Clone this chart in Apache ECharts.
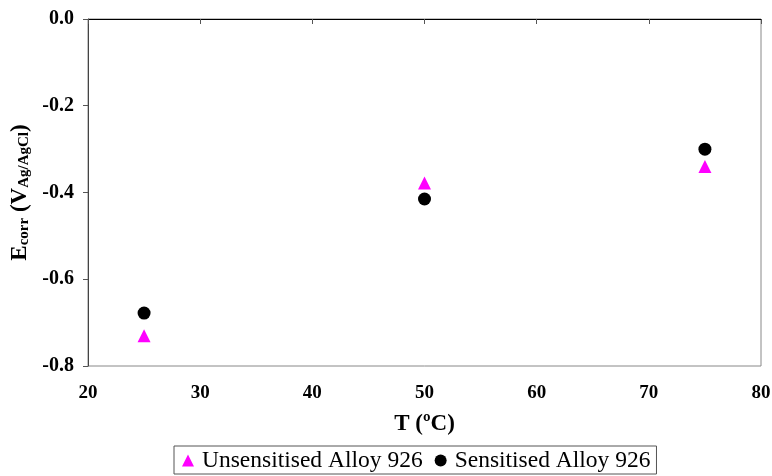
<!DOCTYPE html>
<html><head><meta charset="utf-8">
<script src="https://cdn.jsdelivr.net/npm/echarts@6/dist/echarts.min.js"></script>
<style>html,body{margin:0;padding:0;background:#fff}#c{width:772px;height:476px}</style>
</head><body><div id="c"></div>
<script>
const temps = [25, 50, 75];
const unsensitised = [-0.73, -0.378, -0.34];
const sensitised = [-0.678, -0.415, -0.30];
const xTicks = [20, 30, 40, 50, 60, 70, 80];
const yTicks = [-0.8, -0.6, -0.4, -0.2, 0.0];
const seriesNames = ['Unsensitised Alloy 926', 'Sensitised Alloy 926'];

const font = '"Liberation Serif", "Times New Roman", serif';
const chart = echarts.init(document.getElementById('c'));
chart.setOption({
  animation: false,
  grid: {left: 88, right: 11, top: 19, bottom: 110, show: true, borderColor: '#888', borderWidth: 1,
         containLabel: false, outerBoundsMode: 'none'},
  xAxis: {
    type: 'value', min: xTicks[0], max: xTicks[xTicks.length-1], interval: 10,
    name: 'T (ºC)', nameLocation: 'middle', nameGap: 47,
    nameTextStyle: {fontFamily: font, fontWeight: 'bold', fontSize: 23, color: '#000'},
    axisLine: {show: true, lineStyle: {color: '#000', width: 1}},
    axisTick: {show: true, inside: false, length: 5, lineStyle: {color: '#555'}},
    axisLabel: {fontFamily: font, fontWeight: 'bold', fontSize: 19, color: '#000', margin: 18},
    splitLine: {show: false}
  },
  yAxis: {
    type: 'value', min: yTicks[0], max: yTicks[yTicks.length-1], interval: 0.2,
    name: '{b|E}{s|corr}{b| (V}{s|Ag/AgCl}{b|)}', nameLocation: 'middle', nameGap: 55, nameRotate: 90,
    nameTextStyle: {
      fontFamily: font, color: '#000',
      rich: {
        b: {fontFamily: font, fontWeight: 'bold', fontSize: 23, color: '#000', verticalAlign: 'bottom', lineHeight: 28},
        s: {fontFamily: font, fontWeight: 'bold', fontSize: 15, color: '#000', verticalAlign: 'bottom', lineHeight: 17}
      }
    },
    axisLine: {show: true, lineStyle: {color: '#444', width: 1}},
    axisTick: {show: true, inside: false, length: 5, lineStyle: {color: '#555'}},
    axisLabel: {fontFamily: font, fontWeight: 'bold', fontSize: 20, color: '#000', margin: 14,
      formatter: v => v.toFixed(1)},
    splitLine: {show: false}
  },
  legend: {
    left: 174, top: 446, orient: 'horizontal',
    borderColor: '#555', borderWidth: 1, padding: [2, 6, 1, 8], itemGap: 12,
    itemWidth: 12, itemHeight: 12,
    textStyle: {fontFamily: font, fontSize: 23.5, color: '#000', lineHeight: 25, padding: [0, 0, 0, 3]},
    data: [{name: seriesNames[0], icon: 'triangle'}, {name: seriesNames[1], icon: 'circle'}]
  },
  series: [
    {name: seriesNames[0], type: 'scatter', symbol: 'triangle', symbolSize: 13,
     itemStyle: {color: '#ff00ff', opacity: 1}, data: temps.map((t,i)=>[t, unsensitised[i]])},
    {name: seriesNames[1], type: 'scatter', symbol: 'circle', symbolSize: 13,
     itemStyle: {color: '#000', opacity: 1}, data: temps.map((t,i)=>[t, sensitised[i]])}
  ]
});
</script></body></html>
